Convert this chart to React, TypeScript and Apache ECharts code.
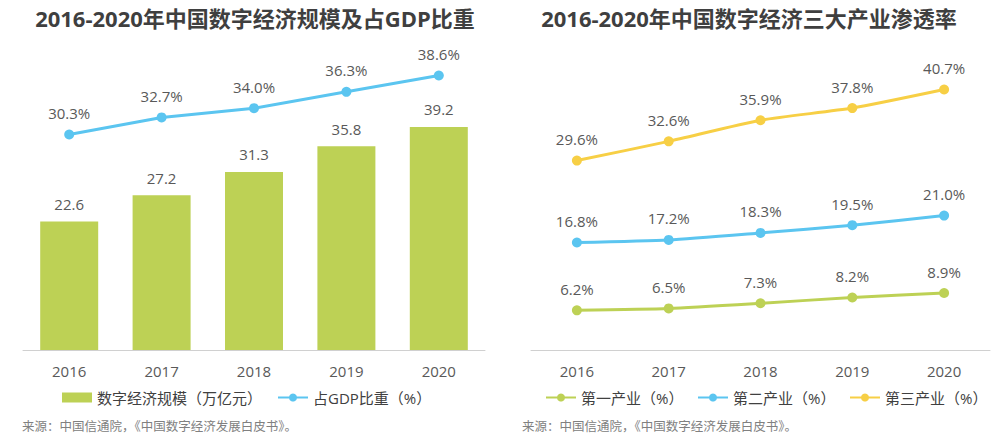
import React, { useEffect, useRef } from "react";
import * as echarts from "echarts";

const years = ["2016", "2017", "2018", "2019", "2020"];
const scaleValues = [22.6, 27.2, 31.3, 35.8, 39.2];
const gdpShare = [30.3, 32.7, 34.0, 36.3, 38.6];
const primary = [6.2, 6.5, 7.3, 8.2, 8.9];
const secondary = [16.8, 17.2, 18.3, 19.5, 21.0];
const tertiary = [29.6, 32.6, 35.9, 37.8, 40.7];

const titleLeft = "2016-2020年中国数字经济规模及占GDP比重";
const titleRight = "2016-2020年中国数字经济三大产业渗透率";
const sourceText = "来源：中国信通院，《中国数字经济发展白皮书》。";
const legendLeft = ["数字经济规模（万亿元）", "占GDP比重（%）"];
const legendRight = ["第一产业（%）", "第二产业（%）", "第三产业（%）"];

const GREEN = "#bdd155";
const BLUE = "#5bc5f0";
const YELLOW = "#f7cf45";
const FONT = "'Open Sans', 'Noto Sans CJK SC', sans-serif";

export default function App() {
  const ref = useRef<HTMLDivElement>(null);
  useEffect(() => {
    if (!ref.current) return;
    const chart = echarts.init(ref.current, undefined, { renderer: "svg" });
    const labelStyle = { color: "#595959", fontSize: 15, fontFamily: FONT };
    const lineSeries = (name: string, data: number[], color: string, xi: number, yi: number, smooth: number | boolean) => ({
      name,
      type: "line",
      xAxisIndex: xi,
      yAxisIndex: yi,
      data,
      smooth,
      symbol: "circle",
      symbolSize: 10,
      lineStyle: { color, width: 3 },
      itemStyle: { color },
      label: {
        show: true,
        position: "top",
        distance: 9,
        formatter: (p: any) => p.value.toFixed(1) + "%",
        ...labelStyle,
      },
    });
    const xAxisBase = (gi: number) => ({
      type: "category",
      gridIndex: gi,
      data: years,
      axisLine: { lineStyle: { color: "#d0d0d0", width: 1 } },
      axisTick: { show: false },
      axisLabel: { color: "#595959", fontSize: 15, margin: 13, fontFamily: FONT },
    });
    const yHidden = (gi: number, max: number) => ({
      type: "value",
      gridIndex: gi,
      min: 0,
      max,
      show: false,
      splitLine: { show: false },
    });
    const legendItem = (item: any, left: number) => ({
      data: [item],
      left,
      top: 390,
      padding: 0,
      width: 240,
      itemWidth: 30,
      itemHeight: 10,
      textStyle: { fontSize: 15, color: "#404040", fontFamily: FONT },
    });
    const titleStyle = { fontSize: 22, fontWeight: "bold", fill: "#3f3f3f", fontFamily: FONT };
    chart.setOption({
      animation: false,
      backgroundColor: "#ffffff",
      grid: [
        { left: 23, right: 513, top: 65.5, bottom: 90 },
        { left: 531, right: 8, top: 62, bottom: 90 },
      ],
      xAxis: [xAxisBase(0), xAxisBase(1)],
      yAxis: [yHidden(0, 50), yHidden(0, 40), yHidden(1, 45)],
      legend: [
        legendItem({ name: legendLeft[0], icon: "rect" }, 62),
        legendItem({ name: legendLeft[1] }, 277),
        legendItem({ name: legendRight[0] }, 545),
        legendItem({ name: legendRight[1] }, 697),
        legendItem({ name: legendRight[2] }, 849),
      ],
      series: [
        {
          name: legendLeft[0],
          type: "bar",
          xAxisIndex: 0,
          yAxisIndex: 0,
          data: scaleValues,
          barWidth: 58,
          itemStyle: { color: GREEN },
          label: { show: true, position: "top", distance: 10, ...labelStyle },
        },
        lineSeries(legendLeft[1], gdpShare, BLUE, 0, 1, false),
        lineSeries(legendRight[0], primary, GREEN, 1, 2, 0.2),
        lineSeries(legendRight[1], secondary, BLUE, 1, 2, 0.2),
        lineSeries(legendRight[2], tertiary, YELLOW, 1, 2, 0.2),
      ],
      graphic: [
        {
          type: "text",
          x: 255,
          y: 18,
          style: { text: titleLeft, ...titleStyle, align: "center", verticalAlign: "middle" },
        },
        {
          type: "text",
          x: 749,
          y: 18,
          style: { text: titleRight, ...titleStyle, align: "center", verticalAlign: "middle" },
        },
        {
          type: "text",
          left: 22,
          top: 420,
          style: { text: sourceText, fontSize: 12.5, fill: "#808080", fontFamily: FONT },
        },
        {
          type: "text",
          left: 522,
          top: 420,
          style: { text: sourceText, fontSize: 12.5, fill: "#808080", fontFamily: FONT },
        },
      ],
    });
    return () => chart.dispose();
  }, []);
  return <div ref={ref} style={{ width: 998, height: 440, position: "absolute", left: 0, top: 0 }} />;
}
